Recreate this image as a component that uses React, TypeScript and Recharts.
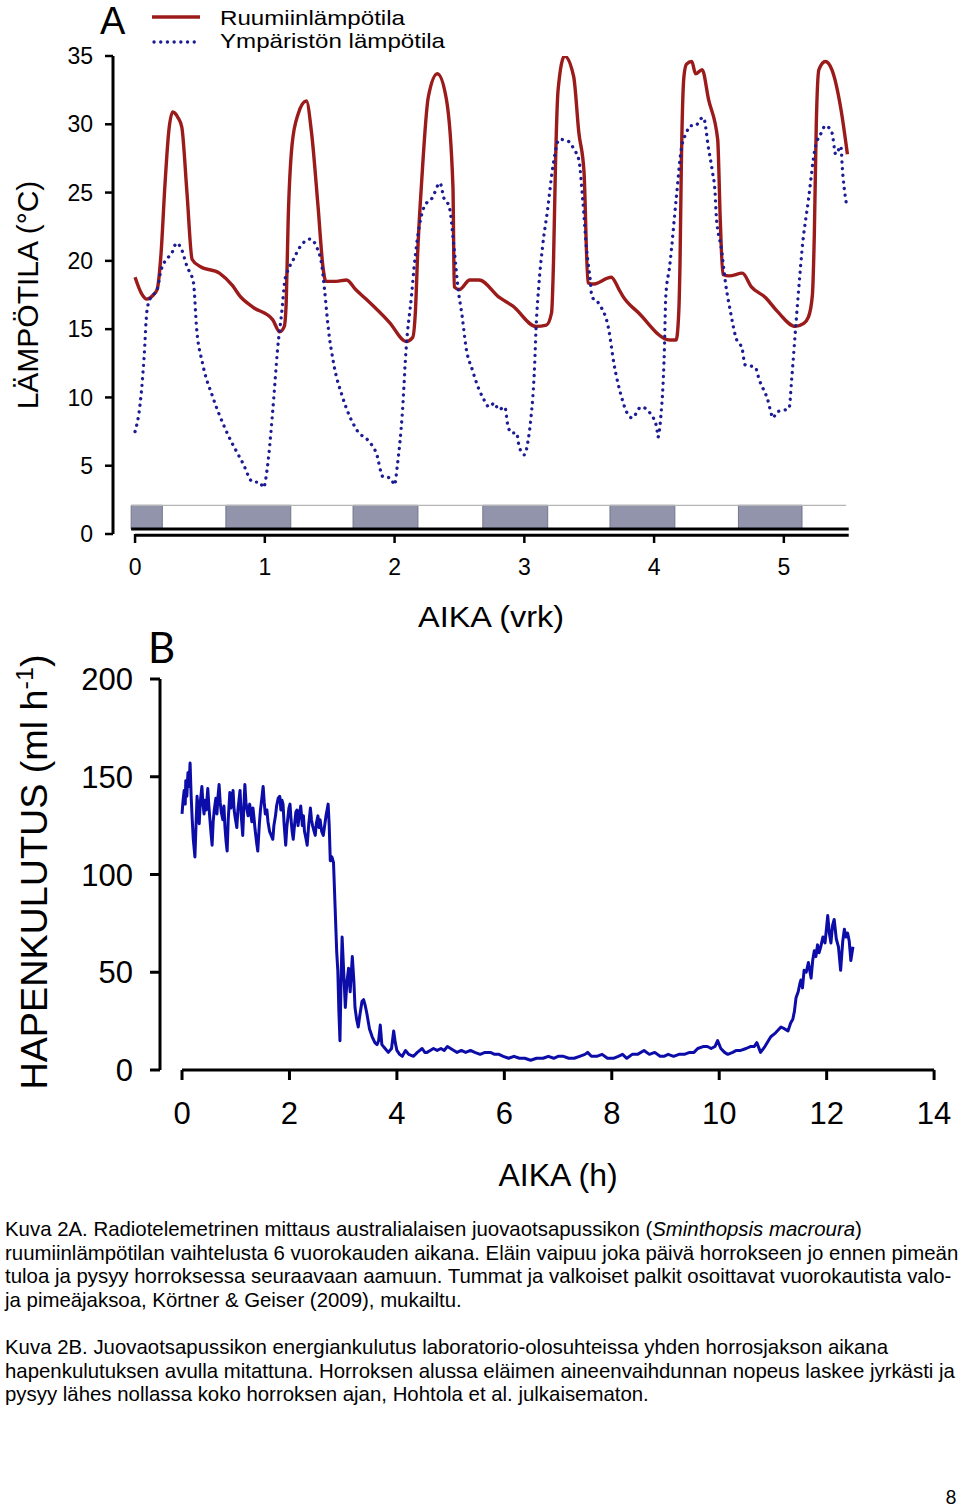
import React from "react";
import { LineChart, Line, XAxis, YAxis, ReferenceArea, ReferenceLine } from "recharts";

// Kuva 2A – ruumiinlämpötila (vrk, °C)
const bodyDays = [
  0, 0.05, 0.09, 0.14, 0.17, 0.2, 0.23, 0.26, 0.29, 0.33, 0.36, 0.4, 0.44, 0.5, 0.65, 0.75, 0.81, 0.91, 1.06, 1.115,
  1.15, 1.165, 1.18, 1.21, 1.255, 1.32, 1.36, 1.41, 1.45, 1.47, 1.55, 1.63, 1.7, 1.78, 1.96, 2.09, 2.14, 2.16, 2.18, 2.21,
  2.26, 2.33, 2.4, 2.45, 2.46, 2.5, 2.58, 2.65, 2.81, 2.91, 3.09, 3.17, 3.21, 3.225, 3.24, 3.26, 3.31, 3.38, 3.42, 3.46,
  3.49, 3.53, 3.67, 3.73, 3.76, 3.88, 4.12, 4.17, 4.19, 4.2, 4.21, 4.23, 4.25, 4.29, 4.32, 4.37, 4.42, 4.49, 4.51, 4.53,
  4.58, 4.68, 4.75, 4.86, 4.95, 5.09, 5.15, 5.19, 5.22, 5.235, 5.25, 5.27, 5.32, 5.37, 5.44, 5.49,
];
const bodyTemp = [
  18.8, 17.6, 17.2, 17.5, 17.9, 20.5, 25.5, 29.5, 30.9, 30.5, 29.8, 25, 20.1, 19.6, 19.1, 18.2, 17.4, 16.6, 15.7, 14.8,
  15.2, 17, 23, 28.5, 30.7, 31.7, 29.4, 24, 19.4, 18.5, 18.5, 18.6, 17.9, 17.2, 15.5, 14.1, 14.4, 16.2, 21, 26,
  32, 33.7, 31.8, 25.4, 18.1, 17.9, 18.6, 18.6, 17.3, 16.7, 15.2, 15.3, 16.2, 20, 27, 32.5, 35, 33.5, 29.4, 26.5,
  18.4, 18.3, 18.8, 17.9, 17.4, 16.2, 14.2, 14.2, 16.2, 20, 27, 33.5, 34.4, 34.6, 33.7, 34, 31.8, 28.9, 23, 19,
  18.9, 19.1, 18.1, 17.3, 16.3, 15.2, 15.4, 15.9, 17.5, 22, 30, 34, 34.6, 34, 31.1, 27.8,
];

// Kuva 2A – ympäristön lämpötila (vrk, °C)
const ambientDays = [
  0, 0.04, 0.07, 0.09, 0.115, 0.17, 0.2, 0.24, 0.28, 0.32, 0.36, 0.4, 0.45, 0.475, 0.52, 0.6, 0.7, 0.83, 0.91, 0.96,
  0.99, 1.02, 1.06, 1.1, 1.13, 1.155, 1.17, 1.22, 1.27, 1.35, 1.4, 1.44, 1.46, 1.49, 1.53, 1.6, 1.71, 1.81, 1.86, 1.91,
  1.97, 2.0, 2.02, 2.06, 2.09, 2.13, 2.15, 2.19, 2.23, 2.29, 2.35, 2.38, 2.42, 2.46, 2.49, 2.52, 2.55, 2.6, 2.65, 2.68,
  2.73, 2.77, 2.8, 2.85, 2.87, 2.9, 2.94, 2.96, 3.0, 3.03, 3.05, 3.08, 3.09, 3.11, 3.14, 3.18, 3.22, 3.27, 3.35, 3.38,
  3.42, 3.45, 3.48, 3.51, 3.52, 3.58, 3.65, 3.69, 3.75, 3.79, 3.83, 3.9, 3.98, 4.02, 4.03, 4.05, 4.08, 4.09, 4.12, 4.17,
  4.21, 4.25, 4.28, 4.32, 4.36, 4.38, 4.42, 4.45, 4.47, 4.48, 4.52, 4.55, 4.59, 4.63, 4.68, 4.7, 4.78, 4.81, 4.87, 4.92,
  4.94, 5.04, 5.06, 5.09, 5.12, 5.14, 5.19, 5.24, 5.29, 5.32, 5.37, 5.4, 5.44, 5.45, 5.48,
];
const ambientTemp = [
  7.5, 9.6, 13, 16.2, 17.2, 17.9, 19.3, 20.1, 20.5, 21.3, 20.8, 19.6, 18.4, 15, 12.5, 10, 7.6, 5.2, 3.8, 3.8,
  3.4, 4.9, 8.9, 13.7, 16.2, 18.6, 19.1, 20.1, 21, 21.6, 21, 19.6, 17.9, 15, 12.5, 10, 7.6, 6.7, 5.9, 4.2,
  4.1, 3.6, 4.9, 8.9, 13.7, 17.4, 19.5, 22.5, 24, 24.6, 25.7, 24.6, 24, 20.8, 17.9, 16, 13.7, 12, 10.6, 10,
  9.3, 9.6, 9.1, 9.3, 8.1, 7.4, 7.4, 6.4, 5.8, 6.9, 8.4, 12.5, 15, 18, 21, 23.8, 26.9, 28.9, 28.7, 28.2,
  27.4, 24.5, 20.8, 18.4, 17.4, 16.8, 15, 12.5, 10, 8.9, 8.5, 9.3, 8.7, 7.8, 7.1, 8.4, 13.7, 17.4, 19.6, 24.5,
  28.2, 29.4, 29.9, 29.9, 30.4, 30.5, 28.2, 26.5, 25, 23.2, 20.8, 18.4, 16.2, 14.4, 13.5, 12.4, 12.2, 11.3, 10, 8.5,
  8.9, 9.2, 11.3, 15, 18.6, 20.8, 24.5, 28.2, 29.4, 29.9, 29.4, 27.8, 28.4, 26.9, 24.3,
];

const tempTicks = [0, 5, 10, 15, 20, 25, 30, 35];
const dayTicks = [0, 1, 2, 3, 4, 5];

// pimeät jaksot (vrk)
const darkStart = [-0.03, 0.7, 1.68, 2.68, 3.66, 4.65];
const darkEnd = [0.21, 1.2, 2.18, 3.18, 4.16, 5.14];
const barEnd = 5.48;

// Kuva 2B – hapenkulutus (h, ml/h)
const hours = [
  0, 0.02, 0.04, 0.06, 0.07, 0.09, 0.11, 0.13, 0.15, 0.17, 0.19, 0.21, 0.24, 0.26, 0.28, 0.3, 0.32, 0.34, 0.37, 0.39,
  0.41, 0.43, 0.45, 0.48, 0.5, 0.52, 0.54, 0.56, 0.58, 0.6, 0.63, 0.65, 0.67, 0.69, 0.71, 0.73, 0.76, 0.78, 0.8, 0.82,
  0.84, 0.86, 0.89, 0.91, 0.93, 0.95, 0.97, 0.99, 1.02, 1.04, 1.06, 1.08, 1.1, 1.13, 1.15, 1.17, 1.19, 1.21, 1.23, 1.26,
  1.28, 1.3, 1.32, 1.34, 1.36, 1.39, 1.41, 1.44, 1.46, 1.49, 1.51, 1.53, 1.55, 1.58, 1.6, 1.63, 1.66, 1.69, 1.71, 1.74,
  1.76, 1.79, 1.82, 1.84, 1.86, 1.88, 1.9, 1.93, 1.95, 1.97, 1.99, 2.01, 2.03, 2.05, 2.07, 2.1, 2.12, 2.14, 2.16, 2.18,
  2.21, 2.24, 2.26, 2.28, 2.31, 2.33, 2.36, 2.39, 2.41, 2.43, 2.46, 2.48, 2.5, 2.53, 2.55, 2.57, 2.6, 2.63, 2.66, 2.68,
  2.7, 2.72, 2.74, 2.76, 2.79, 2.82, 2.85, 2.88, 2.9, 2.92, 2.94, 2.96, 2.98, 3.01, 3.04, 3.07, 3.1, 3.13, 3.17, 3.2,
  3.22, 3.25, 3.28, 3.31, 3.35, 3.38, 3.41, 3.44, 3.49, 3.54, 3.59, 3.63, 3.66, 3.69, 3.72, 3.78, 3.84, 3.9, 3.94, 3.97,
  4.0, 4.05, 4.1, 4.16, 4.22, 4.31, 4.38, 4.47, 4.52, 4.56, 4.62, 4.68, 4.75, 4.82, 4.88, 4.94, 5.0, 5.06, 5.12, 5.2,
  5.28, 5.37, 5.45, 5.55, 5.64, 5.74, 5.82, 5.9, 5.98, 6.08, 6.18, 6.28, 6.38, 6.49, 6.6, 6.72, 6.82, 6.92, 7.0, 7.1,
  7.2, 7.3, 7.4, 7.5, 7.55, 7.62, 7.72, 7.82, 7.92, 8.03, 8.12, 8.2, 8.28, 8.38, 8.48, 8.6, 8.7, 8.8, 8.9, 8.97,
  9.05, 9.15, 9.25, 9.35, 9.45, 9.53, 9.6, 9.7, 9.78, 9.85, 9.92, 9.97, 10.03, 10.1, 10.16, 10.25, 10.32, 10.4, 10.5, 10.58,
  10.65, 10.7, 10.77, 10.85, 10.96, 11.05, 11.15, 11.22, 11.28, 11.33, 11.37, 11.4, 11.43, 11.47, 11.5, 11.52, 11.55, 11.58, 11.62, 11.66,
  11.71, 11.74, 11.77, 11.8, 11.83, 11.86, 11.89, 11.93, 11.97, 12.02, 12.05, 12.08, 12.11, 12.14, 12.18, 12.22, 12.26, 12.3, 12.33, 12.36,
  12.39, 12.42, 12.45, 12.49,
];
const oxygen = [
  131, 138, 143, 136, 148, 140, 152, 145, 157, 140, 128, 118, 109, 125, 140, 133, 126, 137, 145, 136,
  131, 138, 133, 144, 135, 128, 121, 115, 127, 133, 139, 131, 140, 146, 137, 132, 128, 135, 124, 117,
  112, 128, 142, 134, 138, 143, 133, 129, 124, 133, 138, 143, 131, 120, 134, 146, 137, 133, 130, 136,
  131, 127, 134, 129, 123, 116, 112, 126, 133, 140, 145, 137, 131, 133, 127, 122, 120, 118, 125, 130,
  135, 139, 140, 133, 138, 136, 126, 115, 124, 129, 134, 136, 128, 122, 118, 127, 132, 133, 125, 130,
  135, 125, 130, 122, 118, 115, 126, 134, 128, 125, 122, 120, 126, 130, 124, 128, 122, 120, 126, 130,
  133, 136, 125, 107, 109, 106, 83, 60, 51, 30, 15, 45, 68, 50, 32, 45, 52, 40, 58, 45,
  32, 26, 22, 28, 35, 36, 33, 29, 21, 17, 14, 13, 15, 23, 13, 11, 9, 11, 20, 14,
  10, 8, 7, 10, 8, 7, 9, 11, 9, 9, 10, 11, 10, 11, 10, 12, 11, 10, 9, 10,
  9, 10, 9, 8, 9, 9, 8, 8, 7, 6, 7, 6, 6, 5, 6, 6, 7, 6, 7, 7,
  6, 6, 7, 8, 9, 7, 7, 8, 6, 6, 7, 8, 6, 8, 8, 10, 8, 9, 7, 7,
  8, 7, 8, 8, 9, 9, 11, 12, 12, 11, 12, 15, 11, 9, 8, 9, 10, 10, 11, 12,
  12, 14, 9, 12, 17, 19, 22, 21, 20, 24, 26, 30, 37, 40, 44, 46, 42, 51, 50, 55,
  47, 56, 61, 58, 64, 60, 63, 68, 65, 79, 70, 65, 74, 77, 67, 63, 51, 66, 72, 68,
  70, 66, 56, 63,
];

const oxyTicks = [0, 50, 100, 150, 200];
const hourTicks = [0, 2, 4, 6, 8, 10, 12, 14];

const FONT = '"Liberation Sans", Arial, Helvetica, sans-serif';
const LETTER_FONT = 'Lato, "Open Sans", sans-serif';

const bodyData = bodyDays.map((x, i) => ({ x, y: bodyTemp[i] }));
const ambientData = ambientDays.map((x, i) => ({ x, y: ambientTemp[i] }));
const oxyData = hours.map((x, i) => ({ x, y: oxygen[i] }));

function TemperatureChart() {
  const tick = { fill: "#000", fontSize: 23, fontFamily: FONT };
  return (
    <LineChart width={960} height={640} margin={{ top: 56, right: 97, bottom: 56, left: 43 }}>
      <XAxis
        type="number"
        dataKey="x"
        domain={[-0.17, 5.61]}
        ticks={dayTicks}
        allowDataOverflow
        axisLine={false}
        tickLine={{ stroke: "#000", strokeWidth: 2.5 }}
        tickSize={9}
        tickMargin={16}
        height={50}
        tick={tick}
      />
      <YAxis
        type="number"
        domain={[0, 35]}
        ticks={tempTicks}
        allowDataOverflow
        width={70}
        axisLine={{ stroke: "#000", strokeWidth: 3 }}
        tickLine={{ stroke: "#000", strokeWidth: 2.5 }}
        tickSize={8}
        tickMargin={12}
        tick={tick}
      />
      {darkStart.map((s, i) => (
        <ReferenceArea
          key={i}
          x1={s}
          x2={darkEnd[i]}
          y1={0.37}
          y2={2.1}
          fill="#9294ab"
          fillOpacity={1}
          stroke="#74758c"
          strokeWidth={1}
        />
      ))}
      <ReferenceLine segment={[{ x: darkStart[0], y: 2.1 }, { x: barEnd, y: 2.1 }]} stroke="#b5b5b5" strokeWidth={1.2} />
      <ReferenceLine segment={[{ x: darkStart[0], y: 0.37 }, { x: 5.5, y: 0.37 }]} stroke="#000" strokeWidth={3} />
      <ReferenceLine segment={[{ x: 0, y: -0.1 }, { x: 5.5, y: -0.1 }]} stroke="#000" strokeWidth={3} ifOverflow="visible" />
      <Line
        data={bodyData}
        dataKey="y"
        type="monotone"
        stroke="#9b1b1b"
        strokeWidth={3.4}
        dot={false}
        activeDot={false}
        isAnimationActive={false}
      />
      <Line
        data={ambientData}
        dataKey="y"
        type="monotone"
        stroke="#1c1c94"
        strokeWidth={3.3}
        strokeDasharray="0.1 6.6"
        strokeLinecap="round"
        dot={false}
        activeDot={false}
        isAnimationActive={false}
      />
    </LineChart>
  );
}

function OxygenChart() {
  const tick = { fill: "#000", fontSize: 31, fontFamily: FONT };
  return (
    <LineChart width={960} height={580} margin={{ top: 49, right: 20, bottom: 80, left: 80 }}>
      <XAxis
        type="number"
        dataKey="x"
        domain={[-0.41, 14.11]}
        ticks={hourTicks}
        allowDataOverflow
        axisLine={false}
        tickLine={{ stroke: "#000", strokeWidth: 3 }}
        tickSize={10}
        tickMargin={22}
        height={60}
        tick={tick}
      />
      <YAxis
        type="number"
        domain={[0, 200]}
        ticks={oxyTicks}
        allowDataOverflow
        width={80}
        axisLine={{ stroke: "#000", strokeWidth: 3 }}
        tickLine={{ stroke: "#000", strokeWidth: 3 }}
        tickSize={10}
        tickMargin={17}
        tick={tick}
      />
      <ReferenceLine segment={[{ x: 0, y: 0 }, { x: 14, y: 0 }]} stroke="#000" strokeWidth={3} />
      <Line
        data={oxyData}
        dataKey="y"
        type="linear"
        stroke="#0c0ca8"
        strokeWidth={3}
        strokeLinejoin="round"
        dot={false}
        activeDot={false}
        isAnimationActive={false}
      />
    </LineChart>
  );
}

const captionA = [
  "ruumiinlämpötilan vaihtelusta 6 vuorokauden aikana. Eläin vaipuu joka päivä horrokseen jo ennen pimeän",
  "tuloa ja pysyy horroksessa seuraavaan aamuun. Tummat ja valkoiset palkit osoittavat vuorokautista valo-",
  "ja pimeäjaksoa, Körtner & Geiser (2009), mukailtu.",
];
const captionB = [
  "Kuva 2B. Juovaotsapussikon energiankulutus laboratorio-olosuhteissa yhden horrosjakson aikana",
  "hapenkulutuksen avulla mitattuna. Horroksen alussa eläimen aineenvaihdunnan nopeus laskee jyrkästi ja",
  "pysyy lähes nollassa koko horroksen ajan, Hohtola et al. julkaisematon.",
];

function Overlay() {
  return (
    <svg
      width={960}
      height={1509}
      style={{ position: "absolute", left: 0, top: 0, pointerEvents: "none" }}
      fontFamily={FONT}
      fill="#000"
    >
      <text x={100} y={34} fontSize={38}>A</text>
      <line x1={152} x2={200} y1={17} y2={17} stroke="#9b1b1b" strokeWidth={3.4} />
      <line x1={154} x2={198} y1={42} y2={42} stroke="#1c1c94" strokeWidth={3.3} strokeDasharray="0.1 6.6" strokeLinecap="round" />
      <text x={220} y={25} fontSize={21} textLength={185} lengthAdjust="spacingAndGlyphs">Ruumiinlämpötila</text>
      <text x={220} y={48} fontSize={21} textLength={225} lengthAdjust="spacingAndGlyphs">Ympäristön lämpötila</text>
      <text transform="translate(38,295) rotate(-90)" textAnchor="middle" fontSize={30}>LÄMPÖTILA (°C)</text>
      <text x={491} y={627} textAnchor="middle" fontSize={30} textLength={146} lengthAdjust="spacingAndGlyphs">AIKA (vrk)</text>

      <text x={148} y={663} fontFamily={LETTER_FONT} fontSize={42}>B</text>
      <text transform="translate(47,872) rotate(-90)" textAnchor="middle" fontSize={36} textLength={435} lengthAdjust="spacingAndGlyphs">
        HAPENKULUTUS (ml h<tspan dy={-14} fontSize={24}>-1</tspan><tspan dy={14}>)</tspan>
      </text>
      <text x={558} y={1186} textAnchor="middle" fontSize={32}>AIKA (h)</text>

      <text x={5} y={1236} fontSize={20.4}>
        Kuva 2A. Radiotelemetrinen mittaus australialaisen juovaotsapussikon (<tspan fontStyle="italic">Sminthopsis macroura</tspan>)
      </text>
      {captionA.map((line, i) => (
        <text key={line} x={5} y={1259.5 + i * 23.5} fontSize={20.4}>{line}</text>
      ))}
      {captionB.map((line, i) => (
        <text key={line} x={5} y={1354 + i * 23.5} fontSize={20.4}>{line}</text>
      ))}
      <text x={951} y={1504} textAnchor="middle" fontFamily={LETTER_FONT} fontSize={19}>8</text>
    </svg>
  );
}

export default function App() {
  return (
    <div style={{ position: "absolute", left: 0, top: 0, width: 960, height: 1509, background: "#fff", fontFamily: FONT }}>
      <div style={{ position: "absolute", left: 0, top: 0 }}>
        <TemperatureChart />
      </div>
      <div style={{ position: "absolute", left: 0, top: 630 }}>
        <OxygenChart />
      </div>
      <Overlay />
    </div>
  );
}
